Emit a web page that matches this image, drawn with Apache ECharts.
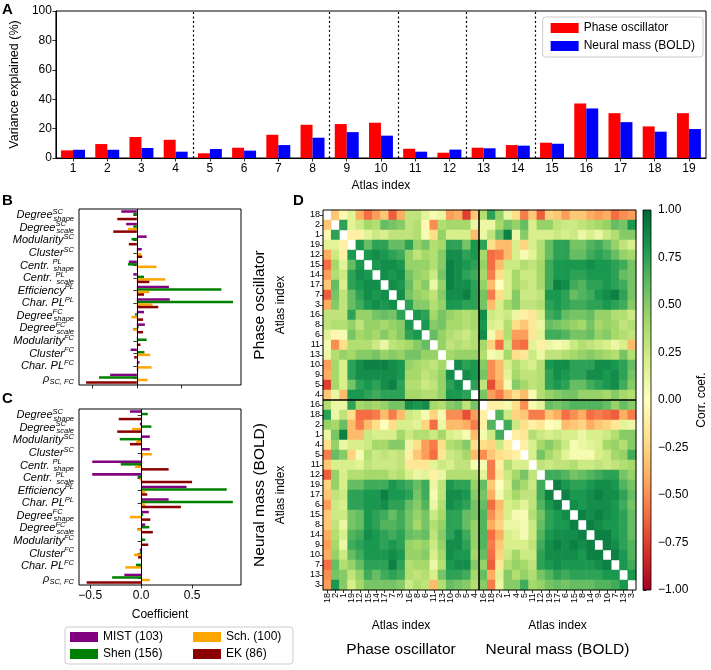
<!DOCTYPE html>
<html><head><meta charset="utf-8">
<script src="https://cdn.jsdelivr.net/npm/echarts@6/dist/echarts.min.js"></script>
<style>html,body{margin:0;padding:0;background:#fff}#c{width:711px;height:670px}</style>
</head><body><div id="c"></div>
<script>
// ---------- Panel A data ----------
const atlasIdx = ['1','2','3','4','5','6','7','8','9','10','11','12','13','14','15','16','17','18','19'];
const varPhase  = [5.2, 9.5, 14.3, 12.4, 3.2, 7.0, 15.8, 22.6, 23.1, 24.0, 6.3, 3.6, 7.0, 8.8, 10.4, 37.1, 30.5, 21.5, 30.5];
const varNeural = [5.6, 5.6, 6.8, 4.3, 6.1, 5.0, 8.8, 13.8, 17.6, 15.2, 4.3, 5.7, 6.6, 8.4, 9.7, 33.7, 24.4, 17.9, 19.7];
const groupBreaks = [4.5, 8.5, 10.5, 12.5, 14.5];

// ---------- Panels B / C data ----------
const metricBase = ['Degree','Degree','Modularity','Cluster','Centr. ','Centr. ','Efficiency','Char. PL','Degree','Degree','Modularity','Cluster','Char. PL','\u03c1'];
const metricSup  = ['SC','SC','SC','SC','PL','PL','PL','PL','FC','FC','FC','FC','FC',''];
const metricSub  = ['shape','scale','','','shape','scale','','','shape','scale','','','','SC, FC'];
const mistB = [-0.175, -0.12, 0.11, 0.055, -0.09, -0.04, 0.36, 0.37, 0.08, 0.09, 0.01, -0.07, 0.03, -0.30];
const shenB = [-0.04, -0.04, -0.06, 0.005, -0.10, 0.08, 0.95, 1.08, -0.02, 0.02, 0.11, 0.085, 0.015, -0.425];
const schB  = [0.005, -0.10, 0.003, 0.05, 0.22, 0.32, 0.14, 0.175, -0.06, -0.045, 0.005, 0.15, 0.165, 0.12];
const ekB   = [-0.22, -0.265, -0.09, 0.06, 0.003, 0.14, 0.08, 0.24, 0.07, 0.07, 0.04, -0.03, 0.015, -0.57];
const mistC = [-0.11, -0.013, 0.085, 0.085, -0.48, -0.48, 0.445, 0.27, 0.075, 0.04, 0.01, -0.013, 0.003, -0.165];
const shenC = [0.065, 0.10, -0.21, 0.006, -0.20, -0.035, 0.84, 0.90, 0.02, 0.08, 0.04, -0.013, -0.05, -0.285];
const schC  = [0.003, -0.09, -0.05, 0.105, -0.06, -0.015, 0.04, 0.04, -0.11, -0.04, 0.01, -0.07, -0.155, 0.085];
const ekC   = [-0.22, -0.235, -0.11, 0.013, 0.27, 0.50, 0.06, 0.39, 0.09, 0.115, 0.07, -0.03, 0.003, -0.535];
const coefTicks = [-0.5, 0, 0.5];

// ---------- Panel D data ----------
const phaseOrder  = ['18','2','1','19','12','15','14','17','7','3','16','8','6','11','13','10','9','5','4'];
const neuralOrder = ['16','18','2','1','4','5','11','12','19','17','6','15','8','14','9','10','7','13','3'];
// upper triangle of Phase x Phase (row i: columns i+1..18)
const corrPhasePhase = [
 [-0.3,-0.05,0.15,-0.4,-0.6,-0.45,-0.3,-0.65,-0.4,0.3,0.3,0.15,0.05,0.1,-0.45,-0.4,-0.75,-0.3],
 [0.75,0.15,0.25,0.4,0.35,0.6,0.55,0.5,0.3,0.35,-0.05,-0.5,0.35,0.4,0.4,0.4,0.1],
 [-0.1,-0.1,0.15,0.25,0.2,0.3,0.3,0.3,0.35,0.05,-0.2,0.45,0.2,0.2,0.2,-0.35],
 [0.8,0.6,0.75,0.75,0.6,0.6,0.75,0.45,0.55,0.35,0.4,0.75,0.75,0.55,0.8],
 [0.8,0.85,0.8,0.75,0.7,0.45,0.3,0.4,0.35,0.5,0.85,0.85,0.75,0.8],
 [0.8,0.85,0.85,0.8,0.45,0.45,0.45,0.35,0.5,0.9,0.85,0.8,0.75],
 [0.85,0.8,0.85,0.55,0.45,0.4,0.25,0.55,0.9,0.85,0.75,0.7],
 [0.85,0.8,0.6,0.4,0.5,0.1,0.45,0.9,0.85,0.85,0.75],
 [0.85,0.55,0.45,0.4,0.3,0.5,0.85,0.85,0.9,0.75],
 [0.75,0.5,0.5,0.35,0.45,0.8,0.8,0.75,0.75],
 [0.8,0.75,0.4,0.55,0.45,0.4,0.35,0.4],
 [0.8,0.5,0.55,0.4,0.4,0.35,0.4],
 [0.6,0.45,0.35,0.3,0.25,0.35],
 [0.45,0.3,0.35,0.3,0.35],
 [0.4,0.45,0.45,0.45],
 [0.85,0.75,0.8],
 [0.85,0.8],
 [0.75]
];
// Phase rows x Neural columns
const corrPhaseNeural = [
 [0.35,0.75,0.45,0.1,-0.2,-0.55,-0.3,-0.65,-0.25,-0.3,-0.45,-0.3,-0.3,-0.4,-0.45,-0.4,-0.6,-0.5,-0.45],
 [0.1,0.1,0.4,0.55,0.45,0.6,0.2,0.45,0.45,0.3,0.25,0.25,0.3,0.35,0.4,0.45,0.6,0.55,0.8],
 [0.1,0.3,0.6,0.9,0.1,0.5,0.2,0.2,0.2,0.25,0.2,0.25,0.1,0.2,0.1,0.25,0.35,0.5,0.5],
 [0.75,-0.2,-0.35,-0.35,0.2,-0.25,0.2,0.35,0.6,0.75,0.75,0.55,0.55,0.65,0.7,0.6,0.45,0.3,0.2],
 [0.4,-0.6,-0.55,-0.35,0.2,0.05,0.15,0.35,0.6,0.75,0.75,0.6,0.6,0.7,0.75,0.7,0.6,0.45,0.4],
 [0.45,-0.6,-0.35,0.25,0.25,0.35,0.3,0.4,0.7,0.8,0.8,0.8,0.8,0.85,0.8,0.8,0.75,0.7,0.55],
 [0.4,-0.55,-0.2,0.2,0.4,0.25,0.25,0.4,0.7,0.8,0.8,0.75,0.75,0.8,0.8,0.8,0.75,0.6,0.55],
 [0.45,-0.35,0.0,0.2,0.4,0.3,0.25,0.4,0.7,0.9,0.85,0.7,0.65,0.75,0.75,0.8,0.75,0.7,0.55],
 [0.55,-0.55,-0.2,0.2,0.5,0.25,0.25,0.3,0.8,0.8,0.75,0.6,0.65,0.7,0.8,0.85,0.9,0.75,0.55],
 [0.55,-0.35,0.2,0.4,0.5,0.3,0.3,0.35,0.75,0.8,0.75,0.7,0.7,0.75,0.75,0.8,0.75,0.7,0.5],
 [0.85,0.25,0.2,0.25,0.1,-0.1,-0.15,0.2,0.7,0.75,0.6,0.55,0.55,0.6,0.45,0.45,0.35,0.35,0.25],
 [0.8,0.2,0.15,0.35,-0.2,-0.3,-0.15,0.1,0.6,0.55,0.5,0.45,0.4,0.55,0.4,0.45,0.4,0.3,0.35],
 [0.85,0.05,-0.25,0.35,-0.45,-0.45,-0.15,0.15,0.7,0.7,0.65,0.55,0.55,0.6,0.45,0.5,0.4,0.35,0.3],
 [0.4,-0.25,-0.6,0.25,-0.55,-0.6,0.15,-0.1,0.1,0.05,0.1,0.25,0.35,0.3,0.25,0.2,0.1,0.2,-0.35],
 [0.35,0.05,0.1,0.4,-0.2,-0.15,0.25,0.1,0.3,0.3,0.35,0.4,0.45,0.5,0.45,0.4,0.35,0.55,0.35],
 [0.5,-0.5,-0.35,0.2,0.35,0.25,0.2,0.35,0.8,0.85,0.85,0.75,0.75,0.75,0.85,0.85,0.8,0.75,0.6],
 [0.55,-0.5,-0.35,0.15,0.4,0.3,0.3,0.35,0.75,0.85,0.8,0.75,0.75,0.85,0.85,0.8,0.85,0.75,0.55],
 [0.3,-0.7,-0.4,0.05,0.5,0.4,0.3,0.35,0.75,0.8,0.75,0.6,0.6,0.7,0.75,0.8,0.85,0.7,0.5],
 [0.55,-0.45,-0.55,-0.35,-0.2,-0.35,0.05,0.35,0.45,0.5,0.55,0.55,0.45,0.45,0.45,0.4,0.5,0.4,0.35]
];
// upper triangle of Neural x Neural
const corrNeuralNeural = [
 [-0.1,-0.1,0.05,-0.2,-0.5,0.05,0.15,0.6,0.55,0.6,0.65,0.65,0.65,0.65,0.6,0.45,0.6,0.5],
 [0.65,0.25,-0.25,-0.3,-0.55,-0.55,-0.3,-0.4,-0.6,-0.5,-0.4,-0.6,-0.55,-0.6,-0.65,-0.4,-0.55],
 [0.7,0.25,-0.2,-0.1,-0.15,0.0,0.05,-0.35,-0.3,-0.25,-0.4,-0.3,-0.25,-0.15,0.15,0.1],
 [-0.1,-0.15,0.35,0.25,0.2,0.25,0.2,0.2,0.1,0.2,0.2,0.25,0.35,0.5,0.5],
 [-0.1,0.2,0.4,0.5,0.4,0.25,0.05,0.1,0.15,0.2,0.4,0.45,0.35,0.5],
 [0.2,0.55,0.4,0.3,0.15,0.05,0.05,0.05,0.2,0.25,0.4,0.45,0.7],
 [0.3,0.25,0.3,0.3,0.35,0.25,0.25,0.3,0.25,0.3,0.35,0.4],
 [0.7,0.7,0.65,0.55,0.6,0.65,0.7,0.75,0.75,0.55,0.45],
 [0.9,0.8,0.75,0.75,0.8,0.85,0.85,0.8,0.65,0.55],
 [0.9,0.8,0.8,0.85,0.9,0.85,0.85,0.75,0.6],
 [0.85,0.8,0.85,0.85,0.85,0.8,0.7,0.55],
 [0.9,0.85,0.9,0.85,0.8,0.75,0.6],
 [0.9,0.85,0.8,0.8,0.75,0.6],
 [0.9,0.9,0.8,0.75,0.6],
 [0.9,0.85,0.75,0.65],
 [0.9,0.8,0.65],
 [0.8,0.7],
 [0.8]
];
const corrRange = [-1, 1];
const rdYlGn = ['#a50026','#d73027','#f46d43','#fdae61','#fee08b','#ffffbf','#d9ef8b','#a6d96a','#66bd63','#1a9850','#006837'];

// ---------- build full symmetric matrix ----------
const nP = phaseOrder.length, nN = neuralOrder.length, nT = nP + nN;
const M = [];
for (let i = 0; i < nT; i++) M.push(new Array(nT).fill(null));
corrPhasePhase.forEach((row, i) => row.forEach((v, k) => { M[i][i + 1 + k] = v; }));
corrPhaseNeural.forEach((row, i) => row.forEach((v, j) => { M[i][nP + j] = v; }));
corrNeuralNeural.forEach((row, i) => row.forEach((v, k) => { M[nP + i][nP + i + 1 + k] = v; }));
for (let i = 0; i < nT; i++) for (let j = 0; j < i; j++) M[i][j] = M[j][i];
function block(r0, c0, nr, nc) {
  const out = [];
  for (let r = 0; r < nr; r++) for (let c = 0; c < nc; c++) {
    const v = M[r0 + r][c0 + c];
    if (v !== null) out.push([c, r, v]);
  }
  return out;
}

const FONT = "'Liberation Sans', Arial, Helvetica, sans-serif";
const BLK = '#000';
const minus = s => String(s).replace('-', '\u2212');

function metricLabel(i) {
  let s = '{b|' + metricBase[i] + '}';
  if (metricSup[i] && metricSub[i]) s += '{sp0|' + metricSup[i] + '}{sb|' + metricSub[i] + '}';
  else if (metricSup[i]) s += '{sp|' + metricSup[i] + '}';
  else if (metricSub[i]) s += '{sb|' + metricSub[i] + '}';
  return s;
}
const metricCats = metricBase.map((b, i) => b + '^' + metricSup[i] + '_' + metricSub[i]);
const richMetric = {
  b:   {fontSize: 11, fontStyle: 'italic', fontFamily: FONT, color: BLK, lineHeight: 15, verticalAlign: 'middle', align: 'left'},
  sp0: {fontSize: 7.5, fontStyle: 'italic', fontFamily: FONT, color: BLK, width: 1, lineHeight: 8, verticalAlign: 'top', align: 'left'},
  sp:  {fontSize: 7.5, fontStyle: 'italic', fontFamily: FONT, color: BLK, lineHeight: 8, verticalAlign: 'top', align: 'left'},
  sb:  {fontSize: 7.5, fontStyle: 'italic', fontFamily: FONT, color: BLK, lineHeight: 8, verticalAlign: 'bottom', align: 'left'}
};

const tick = {show: true, inside: false, length: 3.5, lineStyle: {color: BLK, width: 0.8}};
const lab = {color: BLK, fontSize: 12, fontFamily: FONT};

const gridBox = {show: true, borderColor: BLK, borderWidth: 1, containLabel: false};
const grids = [
  Object.assign({left: 48, top: 11, width: 658, height: 147}, gridBox),   // A
  Object.assign({left: 79, top: 209, width: 162, height: 176}, gridBox),  // B
  Object.assign({left: 79, top: 409, width: 162, height: 176}, gridBox),  // C
  Object.assign({left: 323, top: 210, width: 156, height: 190, z: 5}, gridBox), // D TL
  Object.assign({left: 479, top: 210, width: 157, height: 190, z: 5}, gridBox), // D TR
  Object.assign({left: 323, top: 400, width: 156, height: 190, z: 5}, gridBox), // D BL
  Object.assign({left: 479, top: 400, width: 157, height: 190, z: 5}, gridBox), // D BR
  Object.assign({left: 643, top: 210, width: 8, height: 380, z: 5}, gridBox, {borderWidth: 0.8}) // colorbar
];

const richNameX = {
  s: {fontSize: 12, fontFamily: FONT, color: BLK, lineHeight: 18},
  g: {fontSize: 15.5, fontFamily: FONT, color: BLK, lineHeight: 30}
};
const richNameY = {
  s: {fontSize: 12, fontFamily: FONT, color: BLK, lineHeight: 18},
  g: {fontSize: 15.5, fontFamily: FONT, color: BLK, lineHeight: 24}
};
const hmTickX = {show: true, alignWithLabel: true, length: 3, lineStyle: {color: BLK, width: 0.8}};
const hmLab = {fontSize: 9, color: BLK, fontFamily: FONT, interval: 0, margin: 3};

const xAxes = [
  {type: 'category', gridIndex: 0, data: atlasIdx, axisLine: {lineStyle: {color: BLK}}, axisTick: Object.assign({alignWithLabel: true}, tick),
   axisLabel: Object.assign({margin: 5}, lab), name: 'Atlas index', nameLocation: 'middle', nameGap: 22, nameTextStyle: lab},
  {type: 'value', gridIndex: 0, min: 0.5, max: 19.5, show: false},
  {type: 'value', gridIndex: 1, min: -0.65, max: 1.17, splitLine: {show: false}, axisLine: {lineStyle: {color: BLK}},
   axisTick: Object.assign({customValues: coefTicks}, tick), axisLabel: {show: false}},
  {type: 'value', gridIndex: 2, min: -0.61, max: 0.98, splitLine: {show: false}, axisLine: {lineStyle: {color: BLK}},
   axisTick: Object.assign({customValues: coefTicks}, tick),
   axisLabel: Object.assign({customValues: coefTicks, margin: 5, formatter: v => minus(v.toFixed(1))}, lab),
   name: 'Coefficient', nameLocation: 'middle', nameGap: 24, nameTextStyle: lab},
  {type: 'category', gridIndex: 3, data: phaseOrder, show: false},
  {type: 'category', gridIndex: 4, data: neuralOrder, show: false},
  {type: 'category', gridIndex: 5, data: phaseOrder, axisLine: {show: false}, axisTick: hmTickX,
   axisLabel: Object.assign({rotate: 90}, hmLab),
   name: '{s|Atlas index}\n{g|Phase oscillator}', nameLocation: 'middle', nameGap: 27, nameTextStyle: {rich: richNameX}},
  {type: 'category', gridIndex: 6, data: neuralOrder, axisLine: {show: false}, axisTick: hmTickX,
   axisLabel: Object.assign({rotate: 90}, hmLab),
   name: '{s|Atlas index}\n{g|Neural mass (BOLD)}', nameLocation: 'middle', nameGap: 27, nameTextStyle: {rich: richNameX}},
  {type: 'value', gridIndex: 7, min: 0, max: 1, show: false}
];
const yAxes = [
  {type: 'value', gridIndex: 0, min: 0, max: 100, interval: 20, splitLine: {show: false}, axisLine: {show: true, lineStyle: {color: BLK}},
   axisTick: tick, axisLabel: Object.assign({margin: 4}, lab),
   name: 'Variance explained (%)', nameLocation: 'middle', nameGap: 29, nameTextStyle: Object.assign({}, lab, {fontSize: 12.5})},
  {type: 'category', gridIndex: 1, data: metricCats, inverse: true, axisLine: {show: false},
   axisTick: Object.assign({alignWithLabel: true}, tick),
   axisLabel: {interval: 0, margin: 5, formatter: (v, i) => metricLabel(i), rich: richMetric}},
  {type: 'category', gridIndex: 2, data: metricCats, inverse: true, axisLine: {show: false},
   axisTick: Object.assign({alignWithLabel: true}, tick),
   axisLabel: {interval: 0, margin: 5, formatter: (v, i) => metricLabel(i), rich: richMetric}},
  {type: 'category', gridIndex: 3, data: phaseOrder, inverse: true, axisLine: {show: false}, axisTick: hmTickX, axisLabel: hmLab,
   name: '{g|Phase oscillator}\n{s|Atlas index}', nameLocation: 'middle', nameRotate: 90, nameGap: 33, nameTextStyle: {rich: richNameY}},
  {type: 'category', gridIndex: 4, data: phaseOrder, inverse: true, show: false},
  {type: 'category', gridIndex: 5, data: neuralOrder, inverse: true, axisLine: {show: false}, axisTick: hmTickX, axisLabel: hmLab,
   name: '{g|Neural mass (BOLD)}\n{s|Atlas index}', nameLocation: 'middle', nameRotate: 90, nameGap: 33, nameTextStyle: {rich: richNameY}},
  {type: 'category', gridIndex: 6, data: neuralOrder, inverse: true, show: false},
  {type: 'value', gridIndex: 7, position: 'right', min: corrRange[0], max: corrRange[1], interval: 0.25, splitLine: {show: false},
   axisLine: {show: false}, axisTick: tick, axisLabel: Object.assign({margin: 7, formatter: v => minus(v.toFixed(2))}, lab),
   name: 'Corr. coef.', nameLocation: 'middle', nameRotate: 90, nameGap: 45, nameTextStyle: lab}
];

const groupColors = {MIST: '#800080', Shen: '#008000', Sch: '#ffa500', EK: '#8b0000'};
function coefSeries(name, color, data, xi, yi, withZero) {
  const s = {type: 'bar', name: name, xAxisIndex: xi, yAxisIndex: yi, data: data, barWidth: '20%', barGap: '0%',
    itemStyle: {color: color}, silent: true, animation: false};
  if (withZero) s.markLine = {symbol: ['none', 'none'], silent: true, label: {show: false}, animation: false,
    lineStyle: {color: BLK, width: 1, type: 'solid'}, data: [{xAxis: 0}]};
  return s;
}

const heatBase = {type: 'heatmap', silent: true, animation: false, progressive: 0, itemStyle: {borderWidth: 0}, emphasis: {disabled: true}};
const series = [
  {type: 'bar', name: 'Phase oscillator', xAxisIndex: 0, yAxisIndex: 0, data: varPhase, barWidth: '35%', barGap: '0%', itemStyle: {color: '#ff0000'}, animation: false},
  {type: 'bar', name: 'Neural mass (BOLD)', xAxisIndex: 0, yAxisIndex: 0, data: varNeural, barWidth: '35%', barGap: '0%', itemStyle: {color: '#0000ff'}, animation: false},
  {type: 'line', xAxisIndex: 1, yAxisIndex: 0, data: [], silent: true, animation: false,
   markLine: {symbol: ['none', 'none'], silent: true, animation: false, label: {show: false},
     lineStyle: {color: BLK, width: 1.2, type: [2, 2.5]}, data: groupBreaks.map(v => ({xAxis: v}))}},
  coefSeries('MIST (103)', groupColors.MIST, mistB, 2, 1, true),
  coefSeries('Shen (156)', groupColors.Shen, shenB, 2, 1, false),
  coefSeries('Sch. (100)', groupColors.Sch, schB, 2, 1, false),
  coefSeries('EK (86)', groupColors.EK, ekB, 2, 1, false),
  coefSeries('MIST (103)', groupColors.MIST, mistC, 3, 2, true),
  coefSeries('Shen (156)', groupColors.Shen, shenC, 3, 2, false),
  coefSeries('Sch. (100)', groupColors.Sch, schC, 3, 2, false),
  coefSeries('EK (86)', groupColors.EK, ekC, 3, 2, false),
  Object.assign({xAxisIndex: 4, yAxisIndex: 3, data: block(0, 0, nP, nP)}, heatBase),
  Object.assign({xAxisIndex: 5, yAxisIndex: 4, data: block(0, nP, nP, nN)}, heatBase),
  Object.assign({xAxisIndex: 6, yAxisIndex: 5, data: block(nP, 0, nN, nP)}, heatBase),
  Object.assign({xAxisIndex: 7, yAxisIndex: 6, data: block(nP, nP, nN, nN)}, heatBase),
  {type: 'custom', xAxisIndex: 8, yAxisIndex: 7, silent: true, animation: false, data: [[0, corrRange[0]]],
   renderItem: function (params, api) {
     const p1 = api.coord([0, corrRange[1]]);
     const p2 = api.coord([1, corrRange[0]]);
     const stops = rdYlGn.slice().reverse().map((c, i, a) => ({offset: i / (a.length - 1), color: c}));
     return {type: 'rect', shape: {x: p1[0], y: p1[1], width: p2[0] - p1[0], height: p2[1] - p1[1]},
       style: {fill: new echarts.graphic.LinearGradient(0, 0, 0, 1, stops)}};
   }}
];

const legendText = {fontSize: 12, fontFamily: FONT, color: BLK};
const titleStyle = {fontSize: 15, fontWeight: 'bold', fontFamily: FONT, color: BLK};
const option = {
  animation: false,
  textStyle: {fontFamily: FONT},
  title: [
    {text: 'A', left: 2, top: 2, padding: 0, textStyle: titleStyle},
    {text: 'B', left: 2, top: 193, padding: 0, textStyle: titleStyle},
    {text: 'C', left: 2, top: 391, padding: 0, textStyle: titleStyle},
    {text: 'D', left: 293, top: 193, padding: 0, textStyle: titleStyle}
  ],
  legend: [
    {data: ['Phase oscillator', 'Neural mass (BOLD)'], orient: 'vertical', right: 8, top: 17, itemWidth: 28, itemHeight: 10, itemGap: 6,
     padding: [5, 8, 5, 8], borderColor: '#cccccc', borderWidth: 1, borderRadius: 3, backgroundColor: 'rgba(255,255,255,0.8)',
     icon: 'rect', textStyle: legendText, selectedMode: false},
    {data: ['MIST (103)', 'Shen (156)'], orient: 'vertical', left: 65, top: 627, itemWidth: 28, itemHeight: 10, itemGap: 5,
     padding: [4, 130, 4, 5], borderColor: '#cccccc', borderWidth: 1, borderRadius: 3,
     icon: 'rect', textStyle: legendText, selectedMode: false},
    {data: ['Sch. (100)', 'EK (86)'], orient: 'vertical', left: 188, top: 627, itemWidth: 28, itemHeight: 10, itemGap: 5,
     padding: [4, 5, 4, 5], icon: 'rect', textStyle: legendText, selectedMode: false}
  ],
  visualMap: {type: 'continuous', show: false, min: corrRange[0], max: corrRange[1], dimension: 2,
    seriesIndex: [11, 12, 13, 14], inRange: {color: rdYlGn}},
  grid: grids,
  xAxis: xAxes,
  yAxis: yAxes,
  series: series
};
const chart = echarts.init(document.getElementById('c'), null, {renderer: 'canvas'});
chart.setOption(option);
</script>
</body></html>
